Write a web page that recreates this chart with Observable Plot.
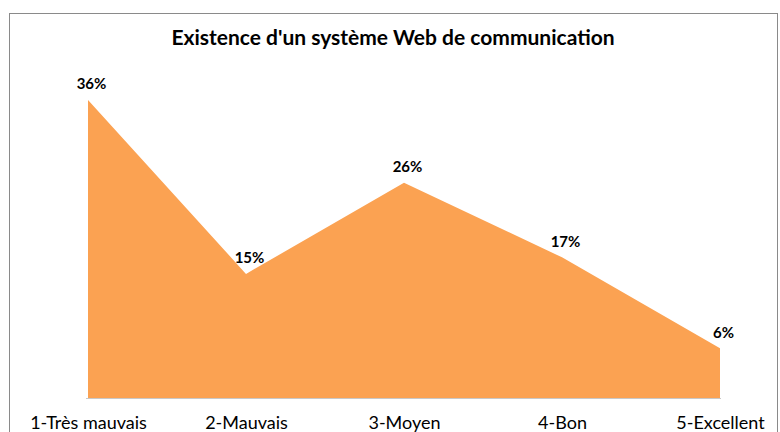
<!DOCTYPE html>
<html>
<head>
<meta charset="utf-8">
<script src="https://cdn.jsdelivr.net/npm/d3@7"></script>
<script src="https://cdn.jsdelivr.net/npm/@observablehq/plot@0.6"></script>
<style>
  body { margin: 0; background: #fff; }
  #wrap { position: relative; width: 780px; height: 432px; overflow: hidden; }
  #border { position: absolute; left: 9px; top: 13px; width: 769px; height: 440px; border: 1.5px solid #8a8a8a; box-sizing: border-box; }
  #chart { position: absolute; left: 0; top: 0; }
</style>
</head>
<body>
<div id="wrap"><div id="border"></div><div id="chart"></div></div>
<script>
const title = "Existence d'un système Web de communication";
const categories = ["1-Très mauvais", "2-Mauvais", "3-Moyen", "4-Bon", "5-Excellent"];
const values = [36, 15, 26, 17, 6];

const data = categories.map((c, i) => ({cat: c, val: values[i]}));
const font = "Lato, 'Open Sans', sans-serif";

const chart = Plot.plot({
  width: 780,
  height: 432,
  marginLeft: 86,
  marginRight: 59,
  marginTop: 67,
  marginBottom: 34,
  style: {fontFamily: font, background: "transparent", overflow: "visible"},
  x: {type: "point", domain: categories, padding: 0, label: null},
  y: {domain: [0, 40], axis: null},
  marks: [
    Plot.areaY(data, {x: "cat", y: "val", fill: "#FBA252", curve: "linear"}),
    Plot.ruleY([0], {stroke: "#c8c8c8", strokeWidth: 1}),
    Plot.text(data, {x: "cat", y: "val", text: d => d.val + "%", dy: -16, dx: 3, fontWeight: "bold", fontSize: 15, fill: "#000"}),
    Plot.axisX({tickSize: 0, tickPadding: 18, fontSize: 18, fill: "#000", label: null}),
    Plot.text([title], {frameAnchor: "top", dx: -11, dy: -37, fontSize: 21, fontWeight: "bold", fill: "#000", textAnchor: "middle"})
  ]
});
document.getElementById("chart").appendChild(chart);
</script>
</body>
</html>
